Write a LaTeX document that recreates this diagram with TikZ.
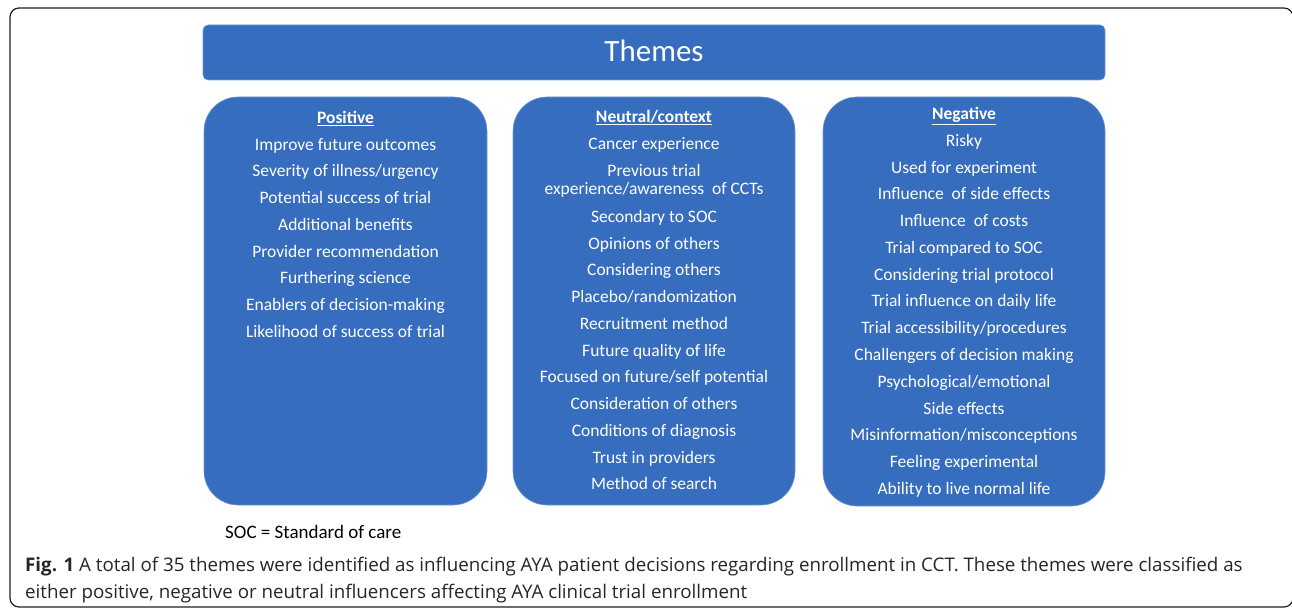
\documentclass[tikz,border=0pt]{standalone}
\usepackage{fontspec}
\setmainfont{Carlito}
\newfontfamily\capfont{Open Sans}
\definecolor{boxblue}{RGB}{54,109,190}
\definecolor{framegray}{RGB}{30,30,30}
\begin{document}
\begin{tikzpicture}[x=1pt,y=-1pt,
  panel/.style={fill=boxblue,draw=boxblue!70!white,line width=0.6pt,rounded corners=34pt},
  item/.style={text=white,font=\fontsize{17.5}{20}\selectfont,inner sep=0pt,anchor=center,text height=12pt,text depth=4pt,yshift=-2.5pt},
  ttl/.style={item,font=\fontsize{17.5}{20}\selectfont\bfseries},
  captext/.style={font=\capfont\fontsize{18.75}{22}\selectfont,inner sep=0pt,anchor=west,text=black!85,text height=13pt,text depth=4pt,yshift=-3pt}]
\useasboundingbox (0,0) rectangle (1292,609);
\draw[framegray,line width=1.2pt,rounded corners=9pt] (10,8) rectangle (1293,607);
% Themes header
\draw[fill=boxblue,draw=boxblue!70!white,line width=0.6pt,rounded corners=5pt] (203,25) rectangle (1105,80);
\node[text=white,font=\fontsize{31}{36}\selectfont,inner sep=0pt,text height=21pt,text depth=7pt,yshift=-4pt] (themes) at (654,51) {Themes};
% panels
\draw[panel] (204,97) rectangle (487,505);
\draw[panel] (513,97) rectangle (795,505);
\draw[panel] (823,97) rectangle (1105,506);
% Positive
\node[ttl] (pt) at (345.5,117) {\underline{Positive}};
\foreach \t [count=\i] in {Improve future outcomes,Severity of illness/urgency,Potential success of trial,Additional benefits,Provider recommendation,Furthering science,Enablers of decision-making,Likelihood of success of trial}
  \node[item] (p\i) at (345.5,{117+26.75*\i}) {\t};
% Neutral
\node[ttl] (nt) at (654,116) {\underline{Neutral/context}};
\node[item] (n1) at (654,143) {Cancer experience};
\node[item] (n2a) at (654,170) {Previous trial};
\node[item] (n2b) at (654,188.5) {experience/awareness\ \ of CCTs};
\foreach \t [count=\i] in {Secondary to SOC,Opinions of others,Considering others,Placebo/randomization,Recruitment method,Future quality of life,Focused on future/self potential,Consideration of others,Conditions of diagnosis,Trust in providers,Method of search}
  \node[item] (nn\i) at (654,{189.2+26.75*\i}) {\t};
% Negative
\node[ttl] (gt) at (964,113) {\underline{Negative}};
\foreach \t [count=\i] in {Risky,Used for experiment,Influence\ \ of side effects,Influence\ \ of costs,Trial compared to SOC,Considering trial protocol,Trial influence on daily life,Trial accessibility/procedures,Challengers of decision making,Psychological/emotional,Side effects,Misinformation/misconceptions,Feeling experimental,Ability to live normal life}
  \node[item] (g\i) at (964,{113+26.78*\i}) {\t};
% footnote
\node[font=\fontsize{19}{22}\selectfont,inner sep=0pt,anchor=west,text height=13pt,text depth=4pt,yshift=-3pt] (soc) at (225,531) {SOC = Standard of care};
% caption
\node[captext] (cap1) at (25,564) {\textbf{Fig. 1} A total of 35 themes were identified as influencing AYA patient decisions regarding enrollment in CCT. These themes were classified as};
\node[captext] (cap2) at (25,591) {either positive, negative or neutral influencers affecting AYA clinical trial enrollment};
\end{tikzpicture}
\end{document}
